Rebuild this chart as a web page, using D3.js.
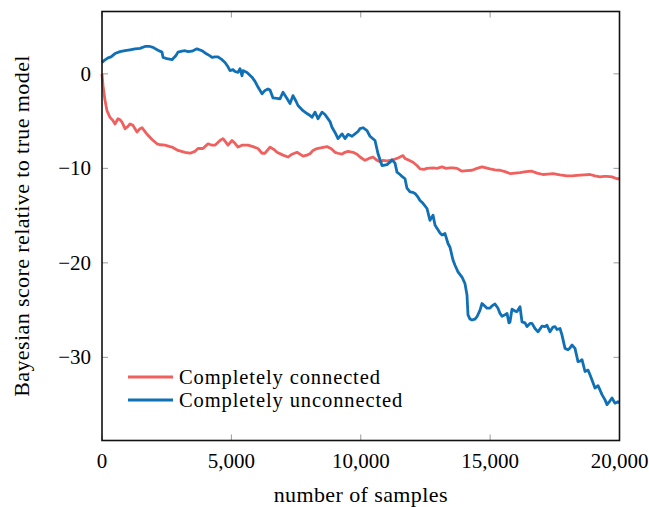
<!DOCTYPE html>
<html><head><meta charset="utf-8">
<script src="https://cdn.jsdelivr.net/npm/d3@7"></script>
<style>
html,body{margin:0;padding:0;background:#fff;}
svg text{font-family:"Liberation Serif","DejaVu Serif",serif;fill:#000;}
</style></head>
<body>
<svg id="chart" width="649" height="507"></svg>
<script>
// ---- data ----
const seriesNames = ["Completely connected", "Completely unconnected"];
const seriesColors = ["#f0605e", "#1070b5"];
const xTicks = [0, 5000, 10000, 15000, 20000];
const yTicks = [0, -10, -20, -30];

const connectedX = [0,39,116,193,309,425,502,618,696,773,889,1005,1082,1198,1275,1353,1469,1546,1662,1778,1932,2126,2242,2435,2628,2705,2937,3208,3401,3594,3710,3903,4097,4251,4367,4560,4676,4792,4870,5024,5140,5256,5411,5643,5836,6029,6184,6300,6493,6647,6763,6995,7188,7343,7536,7652,7768,7923,8039,8155,8309,8502,8696,8850,9005,9121,9275,9391,9507,9700,9855,9971,10164,10319,10473,10628,10744,10860,11015,11246,11439,11633,11710,11826,12019,12174,12290,12444,12560,12792,12947,13140,13295,13449,13565,13720,13913,14106,14300,14493,14686,14841,14995,15188,15382,15575,15768,15961,16155,16386,16618,16812,17043,17237,17430,17700,17971,18164,18357,18628,18860,19053,19246,19401,19517,19710,19903,20000];
const connectedY = [0,-1.25,-2.8,-3.9,-4.6,-4.95,-5.3,-4.75,-4.85,-5.1,-5.8,-5.55,-5.3,-5.45,-5.8,-6.15,-5.8,-5.7,-6.1,-6.5,-6.95,-7.4,-7.5,-7.55,-7.7,-7.75,-8.1,-8.3,-8.4,-8.2,-7.9,-7.9,-7.4,-7.55,-7.55,-7.05,-6.85,-7.25,-7.55,-7.05,-7.35,-7.75,-7.55,-7.55,-7.7,-7.9,-8.4,-8.4,-7.75,-8.0,-8.3,-8.6,-8.8,-8.5,-8.3,-8.5,-8.7,-8.6,-8.45,-8.1,-7.9,-7.8,-7.7,-7.9,-8.3,-8.4,-8.5,-8.3,-8.2,-8.3,-8.5,-8.8,-9.15,-8.95,-8.8,-9.15,-9.3,-9.15,-9.2,-9.1,-8.9,-8.65,-8.95,-9.1,-9.35,-9.7,-10.05,-10.1,-10.0,-9.95,-10.0,-9.85,-10.0,-9.95,-9.95,-10.0,-10.3,-10.25,-10.2,-10.0,-9.85,-9.95,-10.05,-10.15,-10.2,-10.35,-10.55,-10.5,-10.45,-10.35,-10.3,-10.5,-10.65,-10.6,-10.55,-10.7,-10.8,-10.8,-10.75,-10.7,-10.65,-10.8,-10.9,-10.85,-10.85,-10.9,-11.1,-11.1];

const unconnectedX = [0,77,232,348,502,696,889,1082,1275,1469,1662,1855,1971,2164,2319,2358,2512,2705,2860,2937,3092,3208,3324,3478,3594,3671,3865,4019,4174,4251,4367,4483,4638,4754,4870,4947,5063,5140,5256,5333,5411,5449,5604,5797,5913,6029,6184,6300,6415,6493,6609,6763,6879,6995,7150,7266,7382,7498,7575,7768,7923,8039,8116,8232,8348,8502,8618,8696,8812,8889,9005,9121,9275,9391,9507,9662,9778,9894,9971,10087,10242,10357,10551,10667,10822,11015,11130,11208,11324,11401,11517,11594,11710,11787,11903,12019,12097,12213,12290,12406,12560,12676,12792,12870,12947,13063,13140,13256,13372,13449,13565,13643,13758,13913,14029,14106,14145,14222,14300,14415,14493,14609,14686,14802,14879,14995,15072,15188,15304,15382,15459,15575,15652,15729,15768,15845,15961,16039,16155,16232,16348,16425,16541,16618,16734,16850,17005,17121,17198,17314,17430,17507,17585,17700,17778,17894,18010,18087,18164,18280,18396,18473,18551,18667,18783,18860,18937,19053,19169,19246,19324,19440,19517,19633,19710,19826,19942,20000];
const unconnectedY = [1.2,1.4,1.7,1.8,2.15,2.35,2.45,2.55,2.65,2.7,2.9,2.9,2.8,2.5,2.3,1.75,1.6,1.5,1.95,2.3,2.4,2.45,2.35,2.4,2.55,2.65,2.45,2.15,1.9,1.75,1.8,1.8,1.5,1.2,0.75,0.35,0.45,0.25,0.15,0.55,-0.2,0.35,0.15,-0.35,-0.8,-1.4,-2.1,-1.75,-1.6,-1.7,-2.55,-2.6,-2.65,-1.95,-2.6,-3.15,-2.3,-2.9,-3.35,-3.9,-4.2,-4.4,-4.6,-4.05,-4.75,-4.05,-4.3,-4.6,-5.05,-5.65,-6.2,-6.85,-6.35,-6.85,-6.4,-6.6,-6.35,-6.1,-5.8,-5.7,-6.0,-6.6,-7.05,-8.45,-9.7,-9.6,-9.35,-9.1,-9.45,-10.4,-10.65,-10.85,-11.1,-12.1,-12.5,-12.55,-12.65,-13.05,-13.4,-13.7,-14.25,-15.5,-14.95,-16.0,-16.35,-16.85,-17.05,-16.9,-17.95,-18.35,-19.7,-20.25,-20.95,-21.5,-22.2,-23.4,-25.5,-25.95,-26.05,-25.95,-25.7,-25.0,-24.3,-24.6,-24.8,-24.8,-24.55,-24.35,-24.8,-25.35,-25.65,-25.5,-25.35,-26.35,-26.25,-24.9,-25.1,-25.15,-24.65,-26.25,-26.35,-26.75,-26.4,-26.4,-26.95,-27.3,-26.7,-26.75,-26.6,-27.3,-26.8,-26.75,-27.05,-26.95,-27.65,-29.05,-29.2,-29.0,-28.7,-29.05,-30.45,-30.4,-30.25,-31.5,-31.35,-31.85,-32.4,-33.25,-33.0,-33.45,-33.95,-34.5,-35.0,-34.6,-34.3,-34.85,-34.7,-34.8];

// ---- layout ----
const L = 102, R = 619.5, T = 11.5, B = 440.5;
const svg = d3.select("#chart");
const x = d3.scaleLinear().domain([0, 20000]).range([L, R]);
const y = d3.scaleLinear().domain([-38.8, 6.6]).range([B, T]);
const fmt = d3.format(",");
const FS = 21;
const LFS = 22, LSP = 0.4;

// tick marks inward on all four sides
const tickLen = 6;
const tg = svg.append("g").attr("stroke", "#9a9a9a").attr("stroke-width", 1);
xTicks.forEach(v => {
  tg.append("line").attr("x1", x(v)).attr("x2", x(v)).attr("y1", B).attr("y2", B - tickLen);
  tg.append("line").attr("x1", x(v)).attr("x2", x(v)).attr("y1", T).attr("y2", T + tickLen);
});
yTicks.forEach(v => {
  tg.append("line").attr("x1", L).attr("x2", L + tickLen).attr("y1", y(v)).attr("y2", y(v));
  tg.append("line").attr("x1", R).attr("x2", R - tickLen).attr("y1", y(v)).attr("y2", y(v));
});

// lines
const line = d3.line().x(d => x(d[0])).y(d => y(d[1]));
const seriesData = [
  d3.zip(connectedX, connectedY),
  d3.zip(unconnectedX, unconnectedY)
];
seriesData.forEach((data, i) => {
  svg.append("path").datum(data).attr("d", line)
    .attr("fill", "none").attr("stroke", seriesColors[i])
    .attr("stroke-width", 2.8).attr("stroke-linejoin", "round");
});

// frame
svg.append("rect").attr("x", L).attr("y", T).attr("width", R - L).attr("height", B - T)
  .attr("fill", "none").attr("stroke", "#111").attr("stroke-width", 1.6);

// tick labels
xTicks.forEach(v => {
  svg.append("text").attr("x", x(v)).attr("y", 468).attr("text-anchor", "middle")
    .attr("font-size", FS).text(fmt(v));
});
yTicks.forEach(v => {
  svg.append("text").attr("x", 91).attr("y", y(v) + 7).attr("text-anchor", "end")
    .attr("font-size", FS).text(v < 0 ? "\u2212" + Math.abs(v) : String(v));
});

// axis labels
svg.append("text").attr("x", (L + R) / 2).attr("y", 502).attr("text-anchor", "middle")
  .attr("font-size", LFS).attr("letter-spacing", LSP).text("number of samples");
svg.append("text").attr("transform", `translate(29,${(T + B) / 2}) rotate(-90)`)
  .attr("text-anchor", "middle").attr("font-size", LFS).attr("letter-spacing", LSP)
  .text("Bayesian score relative to true model");

// legend
const legY = [377, 400];
seriesNames.forEach((name, i) => {
  svg.append("line").attr("x1", 128).attr("x2", 173).attr("y1", legY[i]).attr("y2", legY[i])
    .attr("stroke", seriesColors[i]).attr("stroke-width", 2.8);
  svg.append("text").attr("x", 179).attr("y", legY[i] + 7).attr("font-size", 20.5)
    .attr("letter-spacing", 0.9).text(name);
});
</script>
</body></html>
